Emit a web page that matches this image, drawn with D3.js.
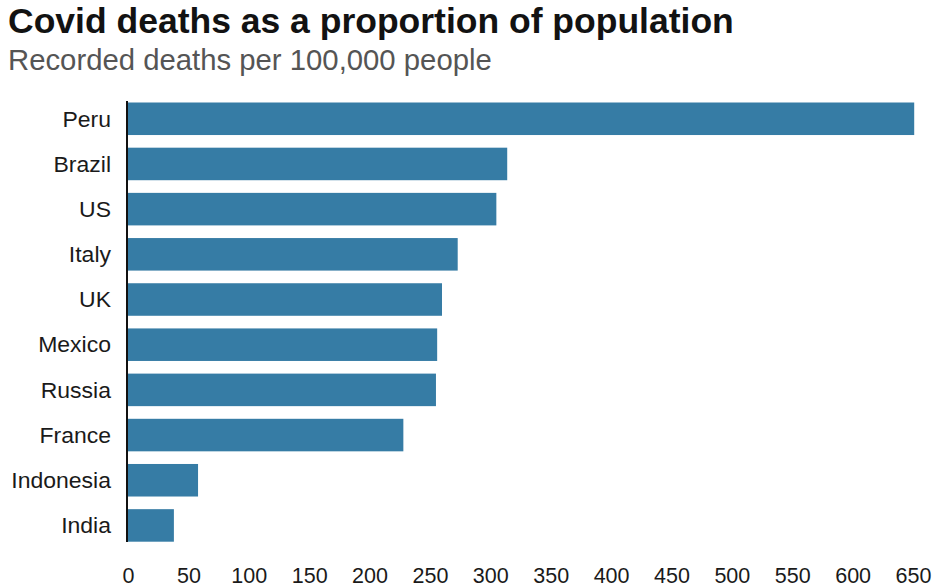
<!DOCTYPE html>
<html>
<head>
<meta charset="utf-8">
<script src="https://cdn.jsdelivr.net/npm/d3@7"></script>
<style>
  html, body { margin: 0; padding: 0; background: #fff; }
  svg { display: block; font-family: "Liberation Sans", Arial, Helvetica, sans-serif; }
</style>
</head>
<body>
<svg id="chart" width="941" height="588"></svg>
<script>
const countries = ["Peru", "Brazil", "US", "Italy", "UK", "Mexico", "Russia", "France", "Indonesia", "India"];
const deathsPer100k = [651, 314, 305, 273, 260, 256, 255, 228, 58, 38];
const tickValues = [0, 50, 100, 150, 200, 250, 300, 350, 400, 450, 500, 550, 600, 650];
const titleText = "Covid deaths as a proportion of population";
const subtitleText = "Recorded deaths per 100,000 people";

const svg = d3.select("#chart");

svg.append("text")
  .attr("x", 8).attr("y", 33)
  .attr("font-size", 35.5).attr("font-weight", "bold")
  .attr("fill", "#121212")
  .text(titleText);

svg.append("text")
  .attr("x", 8).attr("y", 70)
  .attr("font-size", 29.3)
  .attr("fill", "#555555")
  .text(subtitleText);

const x = d3.scaleLinear().domain([0, 650]).range([128, 913]);
const y = d3.scaleBand().domain(countries).range([102.5, 541.7]).paddingInner(0.28).paddingOuter(0);

const data = countries.map((c, i) => ({ country: c, value: deathsPer100k[i] }));

svg.append("g").selectAll("rect").data(data).join("rect")
  .attr("x", x(0))
  .attr("y", d => y(d.country))
  .attr("width", d => x(d.value) - x(0))
  .attr("height", y.bandwidth())
  .attr("fill", "#367ca5");

// category labels (slightly widened like the reference)
svg.append("g").selectAll("text").data(data).join("text")
  .attr("transform", d => `translate(111,${y(d.country) + y.bandwidth() / 2}) scale(1.07,1)`)
  .attr("dy", "0.36em")
  .attr("text-anchor", "end")
  .attr("font-size", 21.5)
  .attr("fill", "#1a1a1a")
  .text(d => d.country);

// vertical axis line
svg.append("line")
  .attr("x1", 127).attr("x2", 127)
  .attr("y1", 101).attr("y2", 542)
  .attr("stroke", "#111").attr("stroke-width", 2);

// x axis ticks
const xAxis = d3.axisBottom(x).tickValues(tickValues).tickSize(0).tickPadding(0);
const gx = svg.append("g").attr("transform", "translate(0,583)").call(xAxis);
gx.select(".domain").remove();
gx.selectAll("text")
  .attr("font-size", 21.5)
  .attr("font-family", "Liberation Sans, Arial, sans-serif")
  .attr("fill", "#1a1a1a")
  .attr("y", 0)
  .attr("dy", "0");
</script>
</body>
</html>
